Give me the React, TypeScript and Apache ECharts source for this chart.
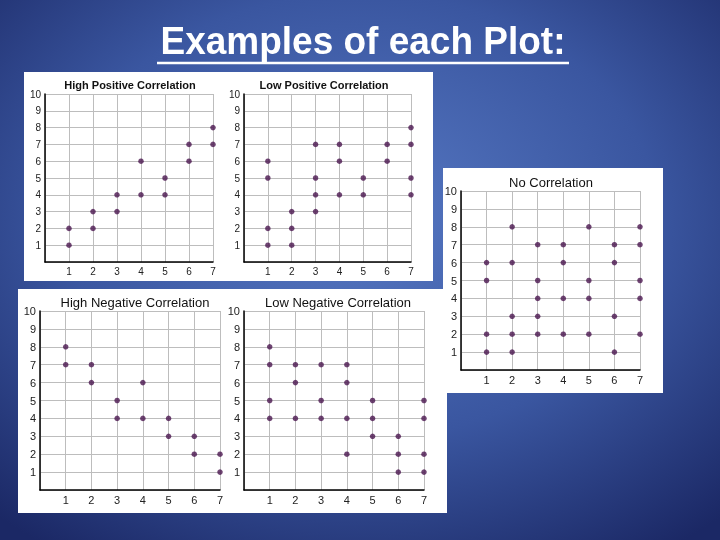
import React, { useEffect, useRef } from "react";
import * as echarts from "echarts";

const slideTitle = "Examples of each Plot:";
const panelTitles = [
  "High Positive Correlation",
  "Low Positive Correlation",
  "No Correlation",
  "High Negative Correlation",
  "Low Negative Correlation",
];

const xMin = 0;
const xMax = 7;
const yMin = 0;
const yMax = 10;

const highPositive: [number, number][] = [
  [1, 1], [1, 2], [2, 2], [2, 3], [3, 3], [3, 4], [4, 4], [4, 6],
  [5, 4], [5, 5], [6, 6], [6, 7], [7, 7], [7, 8],
];
const lowPositive: [number, number][] = [
  [1, 1], [1, 2], [1, 5], [1, 6], [2, 1], [2, 2], [2, 3], [3, 3], [3, 4],
  [3, 5], [3, 7], [4, 4], [4, 6], [4, 7], [5, 4], [5, 5], [6, 6], [6, 7],
  [7, 4], [7, 5], [7, 7], [7, 8],
];
const noCorrelation: [number, number][] = [
  [1, 1], [1, 2], [1, 5], [1, 6],
  [2, 1], [2, 2], [2, 3], [2, 6], [2, 8],
  [3, 2], [3, 3], [3, 4], [3, 5], [3, 7],
  [4, 2], [4, 4], [4, 6], [4, 7],
  [5, 2], [5, 4], [5, 5], [5, 8],
  [6, 1], [6, 3], [6, 6], [6, 7],
  [7, 2], [7, 4], [7, 5], [7, 7], [7, 8],
];
const highNegative: [number, number][] = [
  [1, 8], [1, 7], [2, 7], [2, 6], [3, 5], [3, 4], [4, 6], [4, 4],
  [5, 4], [5, 3], [6, 3], [6, 2], [7, 2], [7, 1],
];
const lowNegative: [number, number][] = [
  [1, 8], [1, 7], [1, 5], [1, 4],
  [2, 7], [2, 6], [2, 4],
  [3, 7], [3, 5], [3, 4],
  [4, 7], [4, 6], [4, 4], [4, 2],
  [5, 5], [5, 4], [5, 3],
  [6, 3], [6, 2], [6, 1],
  [7, 5], [7, 4], [7, 2], [7, 1],
];

const panelData = [highPositive, lowPositive, noCorrelation, highNegative, lowNegative];

// layout of each panel (pixels)
const layouts = [
  { left: 45, top: 94, width: 168, height: 168, tx: 130, ty: 85, tf: "bold 11px 'Liberation Sans', Arial, sans-serif", ls: 10 },
  { left: 244, top: 94, width: 167, height: 168, tx: 324, ty: 85, tf: "bold 11px 'Liberation Sans', Arial, sans-serif", ls: 10 },
  { left: 461, top: 191, width: 179, height: 179, tx: 551, ty: 182, tf: "13px 'Liberation Sans', Arial, sans-serif", ls: 11 },
  { left: 40, top: 311, width: 180, height: 179, tx: 135, ty: 302, tf: "13px 'Liberation Sans', Arial, sans-serif", ls: 11 },
  { left: 244, top: 311, width: 180, height: 179, tx: 338, ty: 302, tf: "13px 'Liberation Sans', Arial, sans-serif", ls: 11 },
];

const whitePanels = [
  { x: 24, y: 72, w: 409, h: 209 },
  { x: 18, y: 289, w: 429, h: 224 },
  { x: 443, y: 168, w: 220, h: 225 },
];

export default function App() {
  const ref = useRef<HTMLDivElement>(null);
  useEffect(() => {
    if (!ref.current) return;
    const chart = echarts.init(ref.current, undefined, { renderer: "svg" });
    const grids: any[] = [];
    const xAxes: any[] = [];
    const yAxes: any[] = [];
    const series: any[] = [];
    const texts: any[] = [];
    layouts.forEach((l, i) => {
      grids.push({ left: l.left, top: l.top, width: l.width, height: l.height, containLabel: false });
      const labelStyle = {
        fontSize: l.ls,
        color: "#222",
        fontFamily: "'Liberation Sans', Arial, sans-serif",
      };
      xAxes.push({
        type: "value",
        gridIndex: i,
        min: xMin,
        max: xMax,
        interval: 1,
        axisLine: { show: true, onZero: false, lineStyle: { color: "#000", width: 1.5 } },
        axisTick: { show: false },
        splitLine: { show: true, lineStyle: { color: "#bdbdbd", width: 1 } },
        axisLabel: { ...labelStyle, margin: 4, formatter: (v: number) => (v === 0 ? "" : String(v)) },
      });
      yAxes.push({
        type: "value",
        gridIndex: i,
        min: yMin,
        max: yMax,
        interval: 1,
        axisLine: { show: true, onZero: false, lineStyle: { color: "#000", width: 1.5 } },
        axisTick: { show: false },
        splitLine: { show: true, lineStyle: { color: "#bdbdbd", width: 1 } },
        axisLabel: { ...labelStyle, margin: 4, formatter: (v: number) => (v === 0 ? "" : String(v)) },
      });
      series.push({
        type: "scatter",
        xAxisIndex: i,
        yAxisIndex: i,
        data: panelData[i],
        symbol: "circle",
        symbolSize: 5.5,
        itemStyle: { color: "#4a154f" },
        z: 5,
      });
      texts.push({
        type: "text",
        x: l.tx,
        y: l.ty,
        z: 10,
        style: {
          text: panelTitles[i],
          font: l.tf,
          fill: "#111",
          align: "center",
          verticalAlign: "middle",
        },
      });
    });

    chart.setOption({
      animation: false,
      backgroundColor: new echarts.graphic.RadialGradient(0.5, 0.4, 0.75, [
        { offset: 0, color: "#5678c3" },
        { offset: 0.55, color: "#3a56a0" },
        { offset: 1, color: "#1b2865" },
      ]),
      graphic: [
        ...whitePanels.map((p) => ({
          type: "rect",
          z: -10,
          silent: true,
          shape: { x: p.x, y: p.y, width: p.w, height: p.h },
          style: { fill: "#ffffff" },
        })),
        {
          type: "text",
          x: 363,
          y: 41,
          scaleY: 1.05,
          style: {
            text: slideTitle,
            font: "bold 37px 'Liberation Sans', Arial, sans-serif",
            fill: "#ffffff",
            align: "center",
            verticalAlign: "middle",
          },
        },
        {
          type: "line",
          shape: { x1: 157, y1: 63, x2: 569, y2: 63 },
          style: { stroke: "#ffffff", lineWidth: 2.5 },
        },
        ...texts,
      ],
      grid: grids,
      xAxis: xAxes,
      yAxis: yAxes,
      series,
    });
    return () => chart.dispose();
  }, []);
  return (
    <div
      ref={ref}
      style={{ position: "fixed", left: 0, top: 0, width: 720, height: 540 }}
    />
  );
}
